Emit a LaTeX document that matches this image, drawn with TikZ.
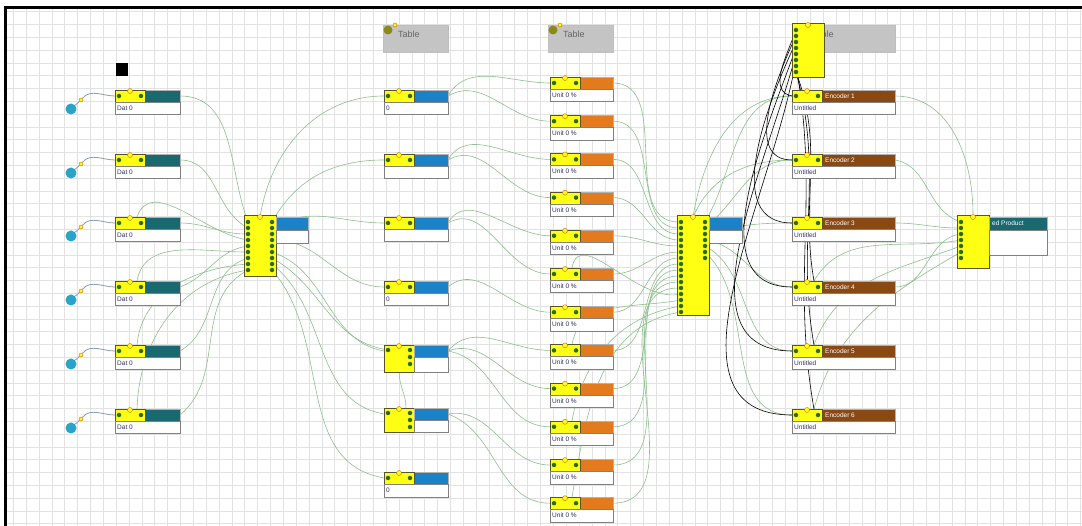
\documentclass[tikz,border=0pt]{standalone}
\usepackage{fontspec}
\setmainfont{Liberation Sans}
\pgfdeclarelayer{gridl}
\pgfdeclarelayer{linkl}
\pgfsetlayers{gridl,linkl,main}
\definecolor{cteal}{HTML}{1A6870}
\definecolor{cblue}{HTML}{1C82C8}
\definecolor{corange}{HTML}{E47A1E}
\definecolor{cbrown}{HTML}{8A4812}
\definecolor{cyel}{HTML}{FFFF14}
\definecolor{cdot}{HTML}{2F6A18}
\definecolor{clink}{HTML}{8CC08C}
\definecolor{cgrid}{HTML}{E2E2E2}
\definecolor{cgraybox}{HTML}{C4C4C4}
\definecolor{ccirc}{HTML}{2AA3C8}
\definecolor{colive}{HTML}{8A8A1A}
\definecolor{cnavy}{HTML}{303060}
\definecolor{cwire}{HTML}{8A9AB0}
\tikzset{
 hbar/.style={draw=gray!60, line width=0.4, inner sep=0, minimum height=12, anchor=north west},
 ypart/.style={fill=cyel, draw=black!50!olive, line width=0.4, inner sep=0, anchor=north west},
 lblbox/.style={draw=gray, fill=white, line width=0.5, inner sep=0, minimum height=12.5, anchor=north west},
 ltext/.style={font=\fontsize{6.5}{7}\selectfont, text=cnavy, anchor=west, inner sep=0},
 htext/.style={font=\fontsize{6.5}{7}\selectfont, text=white, anchor=west, inner sep=0},
 gdot/.style={circle, fill=cdot, inner sep=0, minimum size=4.5},
 knob/.style={circle, fill=cyel, draw=orange!80!black, line width=0.4, inner sep=0, minimum size=5},
 link/.style={draw=clink, line width=0.6},
 blink/.style={draw=black, line width=0.6},
 wire/.style={draw=cwire, line width=0.8},
 circ/.style={circle, fill=ccirc, inner sep=0, minimum size=11},
 tbox/.style={fill=cgraybox, draw=gray!50, inner sep=0, anchor=north west, minimum height=27},
 ttext/.style={font=\fontsize{9}{10}\selectfont, text=black!60, anchor=west, inner sep=0},
 ocirc/.style={circle, fill=colive, inner sep=0, minimum size=9},
 gridline/.style={draw=cgrid, line width=0.7},
}
% name, x, ytop, width, color, header text, label text
\newcommand{\cell}[7]{%
 \node[hbar, fill=#5, minimum width=#4] (#1-h) at (#2,{-(#3)}) {};
 \node[ypart, minimum width=30, minimum height=12] (#1-y) at (#2,{-(#3)}) {};
 \node[gdot] (#1-d1) at ({#2+4},{-(#3)-6}) {};
 \node[gdot] (#1-d2) at ({#2+26},{-(#3)-6}) {};
 \node[knob] (#1-k) at ({#2+15},{-(#3)-1}) {};
 \node[htext] (#1-t) at ({#2+33},{-(#3)-6}) {#6};
 \node[lblbox, minimum width=#4] (#1) at (#2,{-(#3)-12}) {};
 \node[ltext] (#1-l) at ({#2+2},{-(#3)-18.25}) {#7};
 \coordinate (#1-in) at (#2,{-(#3)-6});
 \coordinate (#1-out) at ({#2+#4},{-(#3)-6});
 \coordinate (#1-top) at ({#2+22},{-(#3)});
}
% name, x, ytop, height, nleft, nright
\newcommand{\ynode}[6]{%
 \node[ypart, minimum width=32, minimum height=#4] (#1) at (#2,{-(#3)}) {};
 \foreach \i in {1,...,#5} {\node[gdot] (#1-L\i) at ({#2+4},{-(#3)-1-6*\i}) {};}
 \ifnum#6>0 \foreach \i in {1,...,#6} {\node[gdot] (#1-R\i) at ({#2+28},{-(#3)-1-6*\i}) {};}\fi
 \node[knob] (#1-k) at ({#2+16},{-(#3)-2}) {};
}
% name, x, ytop, height
\newcommand{\tcell}[4]{%
 \node[ypart, minimum width=30, minimum height=#4] (#1-y) at (#2,{-(#3)}) {};
 \node[hbar, fill=cblue, minimum width=34] (#1-h) at ({#2+30},{-(#3)}) {};
 \node[lblbox, minimum width=34, minimum height={#4-12}] (#1) at ({#2+30},{-(#3)-12}) {};
 \node[gdot] (#1-d1) at ({#2+4},{-(#3)-5}) {};
 \node[gdot] (#1-d2) at ({#2+26},{-(#3)-5}) {};
 \node[gdot] (#1-d3) at ({#2+26},{-(#3)-12}) {};
 \node[gdot] (#1-d4) at ({#2+26},{-(#3)-19}) {};
 \node[knob] (#1-k) at ({#2+15},{-(#3)-1}) {};
 \coordinate (#1-in) at (#2,{-(#3)-6});
 \coordinate (#1-out) at ({#2+64},{-(#3)-6});
 \coordinate (#1-top) at ({#2+22},{-(#3)});
}
\begin{document}
\begin{tikzpicture}[x=1pt,y=1pt]
\useasboundingbox (0,0) rectangle (1082,-526);
\begin{pgfonlayer}{gridl}
\fill[white] (0,0) rectangle (1082,-526);
\foreach \k in {0,...,83} \draw[gridline] ({13.3+12.86*\k},-7) -- ({13.3+12.86*\k},-526);
\foreach \k in {0,...,40} \draw[gridline] (7,{-11.8-12.8*\k}) -- (1082,{-11.8-12.8*\k});
\draw[line width=3] (5.5,-526) -- (5.5,-7.5) -- (1082,-7.5);
\end{pgfonlayer}

% black square
\node[fill=black, minimum width=12, minimum height=13, inner sep=0, anchor=north west] (sq) at (116,-63) {};

% column 1
\foreach \n/\y in {1/90,2/154,3/217,4/281,5/345,6/409} {
 \cell{a\n}{115}{\y}{65}{cteal}{}{Dat 0}
 \node[circ] (src\n) at (71,{-\y-19}) {};
 \node[knob, minimum size=4] (pin\n) at (81,{-\y-10}) {};
}

% column 2
\ynode{m1}{244}{215}{61}{9}{9}
\node[hbar, fill=cblue, minimum width=32, minimum height=13] (m1-h) at (276,-217) {};
\node[lblbox, minimum width=32, minimum height=13] (m1-b) at (276,-230) {};

% column 3
\node[tbox, minimum width=65] (t1) at (383,-25) {};
\node[ttext] (t1-t) at (398,-34) {Table};
\node[ocirc] (t1-c) at (388,-30) {};
\node[knob, minimum size=4] (t1-k) at (395,-25) {};
\cell{b1}{384}{90}{64}{cblue}{}{0}
\cell{b2}{384}{154}{64}{cblue}{}{}
\cell{b3}{384}{217}{64}{cblue}{}{}
\cell{b4}{384}{281}{64}{cblue}{}{0}
\tcell{b5}{384}{345}{27}
\tcell{b6}{384}{408}{24}
\cell{b7}{384}{472}{64}{cblue}{}{0}

% column 4
\node[tbox, minimum width=65] (t2) at (548,-25) {};
\node[ttext] (t2-t) at (563,-34) {Table};
\node[ocirc] (t2-c) at (553,-30) {};
\node[knob, minimum size=4] (t2-k) at (560,-25) {};
\foreach \n in {1,...,12} {
 \pgfmathsetmacro\yy{77+38.2*(\n-1)}
 \cell{c\n}{550}{\yy}{63}{corange}{}{Unit 0 \%}
}

% column 5
\ynode{m2}{677}{215}{100}{16}{7}
\node[hbar, fill=cblue, minimum width=33, minimum height=13] (m2-h) at (709,-217) {};
\node[lblbox, minimum width=33, minimum height=13] (m2-b) at (709,-230) {};

% column 6
\node[tbox, minimum width=103] (t3) at (792,-25) {};
\node[ttext] (t3-t) at (812,-34) {Table};
\ynode{m4}{792}{23}{54}{8}{0}
\foreach \n/\y in {1/90,2/154,3/217,4/281,5/345,6/409} {
 \cell{e\n}{792}{\y}{103}{cbrown}{Encoder \n}{Untitled}
}

% column 7
\ynode{m3}{957}{215}{53}{7}{0}
\node[hbar, fill=cteal, minimum width=58, minimum height=13] (m3-h) at (989,-217) {};
\node[htext] (m3-t) at (992,-223.5) {ed Product};
\node[lblbox, minimum width=58, minimum height=25] (m3-b) at (989,-230) {};

\begin{pgfonlayer}{linkl}
% circles to Dat nodes
\foreach \n in {1,...,6} {
 \draw[wire] (src\n) -- (pin\n);
 \draw[wire] (pin\n) to[out=50,in=180] (a\n-in);
}
% col1 -> m1
\draw[link] (a1-out) to[out=0,in=110] (m1-L1);
\draw[link] (a2-out) to[out=0,in=150] (m1-L2);
\draw[link] (a3-out) to[out=0,in=180] (m1-L3);
\draw[link] (a4-out) to[out=20,in=190] (m1-L5);
\draw[link] (a5-out) to[out=30,in=200] (m1-L7);
\draw[link] (a6-out) to[out=40,in=210] (m1-L9);
\draw[link] (a3-top) to[out=70,in=170] (m1-L4);
\draw[link] (a4-top) to[out=80,in=180] (m1-L6);
\draw[link] (a5-top) to[out=85,in=185] (m1-L8);
\draw[link] (a6-top) to[out=88,in=190] (m1-L9);
% m1 -> col3
\draw[link] (m1-k) to[out=80,in=180] (b1-in);
\draw[link] (m1-R1) to[out=60,in=180] (b2-in);
\draw[link] (m1-R2) to[out=30,in=180] (b3-in);
\draw[link] (m1-R4) to[out=0,in=180] (b4-in);
\draw[link] (m1-R6) to[out=-20,in=170] (b5-in);
\draw[link] (m1-R7) to[out=-30,in=170] (b5-d1);
\draw[link] (m1-R8) to[out=-40,in=170] (b6-in);
\draw[link] (m1-R9) to[out=-50,in=170] (b7-in);
% col3 -> col4
\draw[link] (b1-out) to[out=60,in=180] (c1-in);
\draw[link] (b1-out) to[out=30,in=180] (c2-in);
\draw[link] (b2-out) to[out=60,in=180] (c3-in);
\draw[link] (b2-out) to[out=30,in=180] (c4-in);
\draw[link] (b3-out) to[out=60,in=180] (c5-in);
\draw[link] (b3-out) to[out=30,in=180] (c6-in);
\draw[link] (b4-out) to[out=40,in=180] (c7-in);
\draw[link] (b5-out) to[out=50,in=180] (c8-in);
\draw[link] (b5-out) to[out=20,in=180] (c9-in);
\draw[link] (b5-out) to[out=-10,in=180] (c10-in);
\draw[link] (b6-out) to[out=10,in=180] (c11-in);
\draw[link] (b6-out) to[out=-20,in=180] (c12-in);
\draw[link] (b5-y.south) to[out=-90,in=90] (b6-top);
% col4 -> m2
\foreach \n in {1,...,12} \draw[link] (c\n-out) to[out=0,in=180] (m2-L\n);
\foreach \n/\k in {6/13,8/14,10/15,12/16} \draw[link] (c\n-top) to[out=80,in=190] (m2-L\k);
% m2 -> col6
\draw[link] (m2-k) to[out=80,in=180] (e1-in);
\draw[link] (m2-k) to[out=65,in=180] (e2-in);
\draw[link] (m2-R1) to[out=60,in=180] (e1-in);
\draw[link] (m2-R2) to[out=40,in=180] (e2-in);
\draw[link] (m2-R3) to[out=15,in=180] (e3-in);
\draw[link] (m2-R4) to[out=-10,in=180] (e4-in);
\draw[link] (m2-R5) to[out=-30,in=180] (e5-in);
\draw[link] (m2-R6) to[out=-45,in=180] (e6-in);
% col6 -> m3
\draw[link] (e1-out) to[out=0,in=90] (m3-k);
\draw[link] (e2-out) to[out=-10,in=160] (m3-L1);
\draw[link] (e3-out) to[out=0,in=180] (m3-L2);
\draw[link] (e4-out) to[out=0,in=190] (m3-L3);
\draw[link] (e4-top) to[out=60,in=190] (m3-L4);
\draw[link] (e5-top) to[out=70,in=200] (m3-L5);
\draw[link] (e6-top) to[out=75,in=210] (m3-L6);
% black links
\draw[blink] (m4-L1) to[out=250,in=170] (e1-in);
\draw[blink] (m4-L2) to[out=245,in=180] (e2-in);
\draw[blink] (m4-L3) to[out=245,in=180] (e3-in);
\draw[blink] (m4-L4) to[out=250,in=180] (e4-in);
\draw[blink] (m4-L5) to[out=255,in=180] (e5-in);
\draw[blink] (m4-L6) to[out=260,in=180] (e6-in);
\draw[blink] (m4-L7) to[out=-80,in=100] (e6-top);
\draw[blink] (m4-L8) to[out=-75,in=100] (e5-top);
\draw[blink] (m4-L8) to[out=-70,in=100] (e4-top);
\end{pgfonlayer}
\end{tikzpicture}
\end{document}
